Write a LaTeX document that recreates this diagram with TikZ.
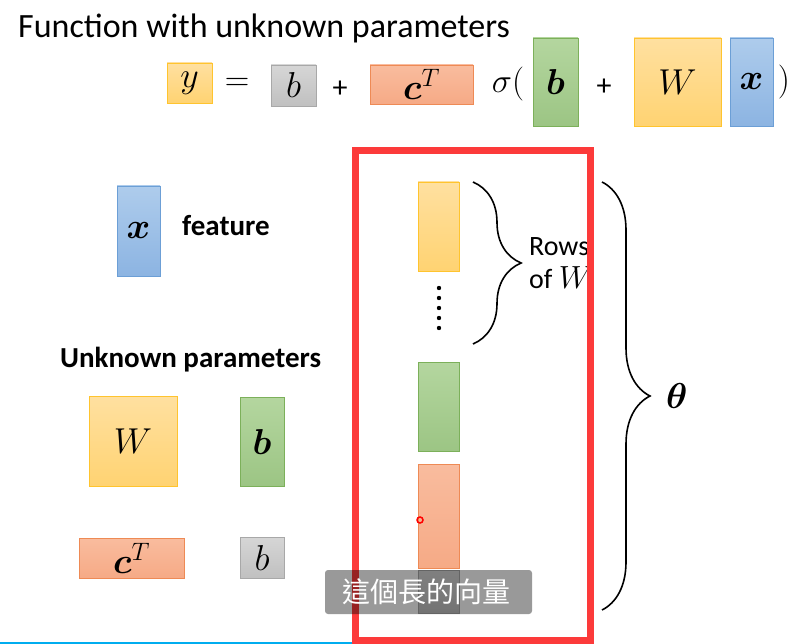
\RequirePackage{fix-cm}
\documentclass[tikz,border=0pt]{standalone}
\usepackage{amsmath,amssymb,bm}
\usepackage{fontspec}
\setmainfont{Carlito}
\newfontfamily\cjk{Noto Sans CJK TC}
\usetikzlibrary{decorations.pathreplacing}

\definecolor{yelline}{HTML}{FFC42E}
\definecolor{yeltop}{HTML}{FFE0A0}
\definecolor{yelbot}{HTML}{FFD372}
\definecolor{grnline}{HTML}{7CB05A}
\definecolor{grntop}{HTML}{B4D69F}
\definecolor{grnbot}{HTML}{9CC584}
\definecolor{orgline}{HTML}{EE8A55}
\definecolor{orgtop}{HTML}{F9BC9E}
\definecolor{orgbot}{HTML}{F6AA86}
\definecolor{bluline}{HTML}{6C9FD6}
\definecolor{blutop}{HTML}{AECCEC}
\definecolor{blubot}{HTML}{8CB4E2}
\definecolor{gryline}{HTML}{A8A8A8}
\definecolor{grytop}{HTML}{D6D6D6}
\definecolor{grybot}{HTML}{C0C0C0}
\definecolor{redframe}{HTML}{FC3A3A}

\begin{document}
\begin{tikzpicture}[x=1pt,y=-1pt,
  par/.style={inner sep=0pt,line width=0.8pt,font=\fontsize{36}{40}\selectfont},
  yel/.style={par,draw=yelline,top color=yeltop,bottom color=yelbot},
  grn/.style={par,draw=grnline,top color=grntop,bottom color=grnbot},
  org/.style={par,draw=orgline,top color=orgtop,bottom color=orgbot},
  blu/.style={par,draw=bluline,top color=blutop,bottom color=blubot},
  gry/.style={par,draw=gryline,top color=grytop,bottom color=grybot},
  sym/.style={inner sep=0pt,font=\fontsize{34}{38}\selectfont},
  lbl/.style={inner sep=0pt,font=\fontsize{29}{32}\selectfont\bfseries,anchor=west}]
  \useasboundingbox (0,0) rectangle (811,644);

  % title and formula
  \node[inner sep=0pt,anchor=west,font=\fontsize{34}{38}\selectfont] (title) at (18,28) {Function with unknown parameters};
  \node[yel,minimum width=45,minimum height=40] (fy) at (189.5,83) {$y$};
  \node[sym] (eq) at (237,84) {$=$};
  \node[gry,minimum width=45,minimum height=41] (fb0) at (293.5,85.5) {$b$};
  \node[sym] (p1) at (340,89) {\fontsize{30}{34}\selectfont +};
  \node[org,minimum width=103,minimum height=39] (fc) at (421.5,84.5) {$\bm{c}^T$};
  \node[sym] (sig) at (508,84) {$\sigma($};
  \node[grn,minimum width=45,minimum height=88] (fb) at (555.5,82) {$\bm{b}$};
  \node[sym] (p2) at (604,87) {\fontsize{30}{34}\selectfont +};
  \node[yel,minimum width=87,minimum height=88] (fW) at (677.5,82) {$W$};
  \node[blu,minimum width=43,minimum height=88] (fx) at (751.5,82) {$\bm{x}$};
  \node[sym] (cl) at (784,82) {$)$};

  % left side
  \node[blu,minimum width=43,minimum height=90] (x) at (138.5,231) {$\bm{x}$};
  \node[lbl] (feat) at (182,226) {feature};
  \node[lbl] (unk) at (60,360) {Unknown parameters};
  \node[yel,minimum width=88,minimum height=90] (W) at (133,441) {$W$};
  \node[grn,minimum width=44,minimum height=89] (b) at (262,441.5) {$\bm{b}$};
  \node[org,minimum width=105,minimum height=40] (cT) at (131.5,558) {$\bm{c}^T$};
  \node[gry,minimum width=44,minimum height=41] (b0) at (262,557.5) {$b$};

  % long vector theta
  \node[yel,minimum width=41,minimum height=89] (r1) at (438.5,226.5) {};
  \foreach \k in {0,...,4}
    \fill (439,288+10*\k) circle (2.2);
  \node[grn,minimum width=41,minimum height=89] (tb) at (438.5,406.5) {};
  \node[org,minimum width=41,minimum height=104] (tc) at (438.5,516) {};
  \node[gry,minimum width=41,minimum height=43] (tb0) at (438.5,592) {};

  \coordinate (s1) at (473,182);
  \coordinate (s2) at (473,344);
  \coordinate (t1) at (602,182);
  \coordinate (t2) at (602,610);
  \draw [line width=1.6pt, decorate, decoration={brace,amplitude=48pt}] (s1) -- (s2);
  \draw [line width=1.6pt, decorate, decoration={brace,amplitude=48pt}] (t1) -- (t2);
  \begin{scope}
    \clip (352,148) rectangle (590,644);
    \node[inner sep=0pt,anchor=west,align=left,font=\fontsize{28}{33}\selectfont] (rows) at (529,263) {Rows\\of \fontsize{32}{33}\selectfont$W$};
  \end{scope}
  \node[inner sep=0pt,anchor=west,font=\fontsize{36}{40}\selectfont] (theta) at (666,396) {$\bm{\theta}$};

  \draw [redframe, line width=7pt] (355.5,150.5) rectangle (590.5,640.5);
  \draw [red, line width=1.5pt] (420,520) circle (3);

  % subtitle
  \node[fill=black,fill opacity=0.4,rounded corners=3pt,minimum width=207,minimum height=44,inner sep=0pt] (sub) at (428.5,592) {};
  \node[text=white,font=\cjk\fontsize{28}{30}\selectfont,inner sep=0pt] (subtxt) at (426,592) {這個長的向量};
  \draw [cyan, line width=1.5pt] (0,643) -- (352,643);
\end{tikzpicture}
\end{document}
